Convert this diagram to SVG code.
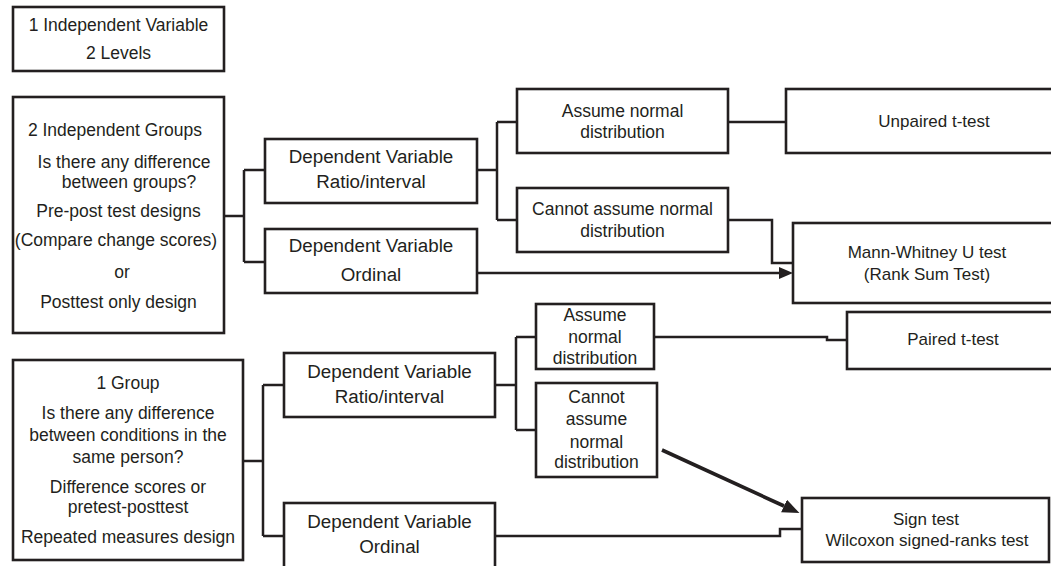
<svg xmlns="http://www.w3.org/2000/svg" width="1051" height="566" viewBox="0 0 1051 566">
<style>
.box{fill:#fff;stroke:#231f20;stroke-width:2.6}
.t{font-family:"Liberation Sans",Arial,sans-serif;font-size:17.5px;fill:#231f20;text-anchor:middle}
.dv{font-size:18.8px}
.r{font-size:17px}
.c{fill:none;stroke:#231f20;stroke-width:2.5}
.d{fill:none;stroke:#231f20;stroke-width:3.6}
</style>
<defs>
<marker id="ah" viewBox="0 -6 14 12" markerWidth="14" markerHeight="12" refX="0" refY="0" orient="auto" markerUnits="userSpaceOnUse"><path d="M0,-6 L14,0 L0,6 z" fill="#231f20"/></marker>
<marker id="ah2" viewBox="0 -7 17 14" markerWidth="17" markerHeight="14" refX="0" refY="0" orient="auto" markerUnits="userSpaceOnUse"><path d="M0,-7 L17,0 L0,7 z" fill="#231f20"/></marker>
</defs>
<rect width="1051" height="566" fill="#fff"/>
<g id="connectors">
<path class="c" d="M224,216 H244 M244,170 V262 M244,170 H265 M244,262 H265"/>
<path class="c" d="M477,170 H497 M497,122 V220 M497,122 H517 M497,220 H517"/>
<path class="c" d="M728,122 H786"/>
<path class="c" d="M728,220 H772 V263 H793"/>
<path class="c" d="M477,273 H779" marker-end="url(#ah)"/>
<path class="c" d="M243,461 H263 M263,385 V536 M263,385 H284 M263,536 H284"/>
<path class="c" d="M495,385 H516 M516,337 V430 M516,337 H536 M516,430 H536"/>
<path class="c" d="M654,337 H827 V340 H847"/>
<path class="c" d="M495,536 H780 V529 H802"/>
<path class="d" d="M662,450 L784,506" marker-end="url(#ah2)"/>
</g>
<g id="n-1iv">
<rect class="box" x="13" y="7" width="211" height="64"/>
<text class="t" x="118.5" y="31">1 Independent Variable</text>
<text class="t" x="118.5" y="59">2 Levels</text>
</g>
<g id="n-2groups">
<rect class="box" x="13" y="97" width="211" height="236"/>
<text class="t" x="115" y="136">2 Independent Groups</text>
<text class="t" x="124" y="168">Is there any difference</text>
<text class="t" x="129" y="188">between groups?</text>
<text class="t" x="118.5" y="217">Pre-post test designs</text>
<text class="t" x="116" y="246">(Compare change scores)</text>
<text class="t" x="122" y="278">or</text>
<text class="t" x="118.5" y="308">Posttest only design</text>
</g>
<g id="n-dv-ratio-1">
<rect class="box" x="265" y="139" width="212" height="64"/>
<text class="t dv" x="371" y="163">Dependent Variable</text>
<text class="t dv" x="371" y="188">Ratio/interval</text>
</g>
<g id="n-dv-ord-1">
<rect class="box" x="265" y="229" width="212" height="64"/>
<text class="t dv" x="371" y="252">Dependent Variable</text>
<text class="t dv" x="371" y="281">Ordinal</text>
</g>
<g id="n-normal-1">
<rect class="box" x="517" y="89" width="211" height="64"/>
<text class="t" x="622.5" y="117">Assume normal</text>
<text class="t" x="622.5" y="138">distribution</text>
</g>
<g id="n-notnormal-1">
<rect class="box" x="517" y="188" width="211" height="64"/>
<text class="t" x="622.5" y="215">Cannot assume normal</text>
<text class="t" x="622.5" y="237">distribution</text>
</g>
<g id="n-unpaired">
<rect class="box" x="786" y="89" width="280" height="64"/>
<text class="t r" x="934" y="127">Unpaired t-test</text>
</g>
<g id="n-mann">
<rect class="box" x="793" y="223" width="280" height="80"/>
<text class="t r" x="927" y="258">Mann-Whitney U test</text>
<text class="t r" x="927" y="280">(Rank Sum Test)</text>
</g>
<g id="n-1group">
<rect class="box" x="13" y="360" width="230" height="200"/>
<text class="t" x="128" y="389">1 Group</text>
<text class="t" x="128" y="419">Is there any difference</text>
<text class="t" x="128" y="441">between conditions in the</text>
<text class="t" x="128" y="463">same person?</text>
<text class="t" x="128" y="493">Difference scores or</text>
<text class="t" x="128" y="513">pretest-posttest</text>
<text class="t" x="128" y="543">Repeated measures design</text>
</g>
<g id="n-dv-ratio-2">
<rect class="box" x="284" y="353" width="211" height="64"/>
<text class="t dv" x="389.5" y="378">Dependent Variable</text>
<text class="t dv" x="389.5" y="403">Ratio/interval</text>
</g>
<g id="n-dv-ord-2">
<rect class="box" x="284" y="503" width="211" height="70"/>
<text class="t dv" x="389.5" y="528">Dependent Variable</text>
<text class="t dv" x="389.5" y="553">Ordinal</text>
</g>
<g id="n-normal-2">
<rect class="box" x="536" y="304" width="118" height="65"/>
<text class="t" x="595" y="321">Assume</text>
<text class="t" x="595" y="343">normal</text>
<text class="t" x="595" y="364">distribution</text>
</g>
<g id="n-notnormal-2">
<rect class="box" x="536" y="383" width="121" height="94"/>
<text class="t" x="596.5" y="403">Cannot</text>
<text class="t" x="596.5" y="425">assume</text>
<text class="t" x="596.5" y="448">normal</text>
<text class="t" x="596.5" y="468">distribution</text>
</g>
<g id="n-paired">
<rect class="box" x="847" y="312" width="220" height="57"/>
<text class="t r" x="953" y="345">Paired t-test</text>
</g>
<g id="n-sign">
<rect class="box" x="802" y="498" width="247" height="64"/>
<text class="t r" x="926" y="525">Sign test</text>
<text class="t r" x="927" y="546">Wilcoxon signed-ranks test</text>
</g>
</svg>
